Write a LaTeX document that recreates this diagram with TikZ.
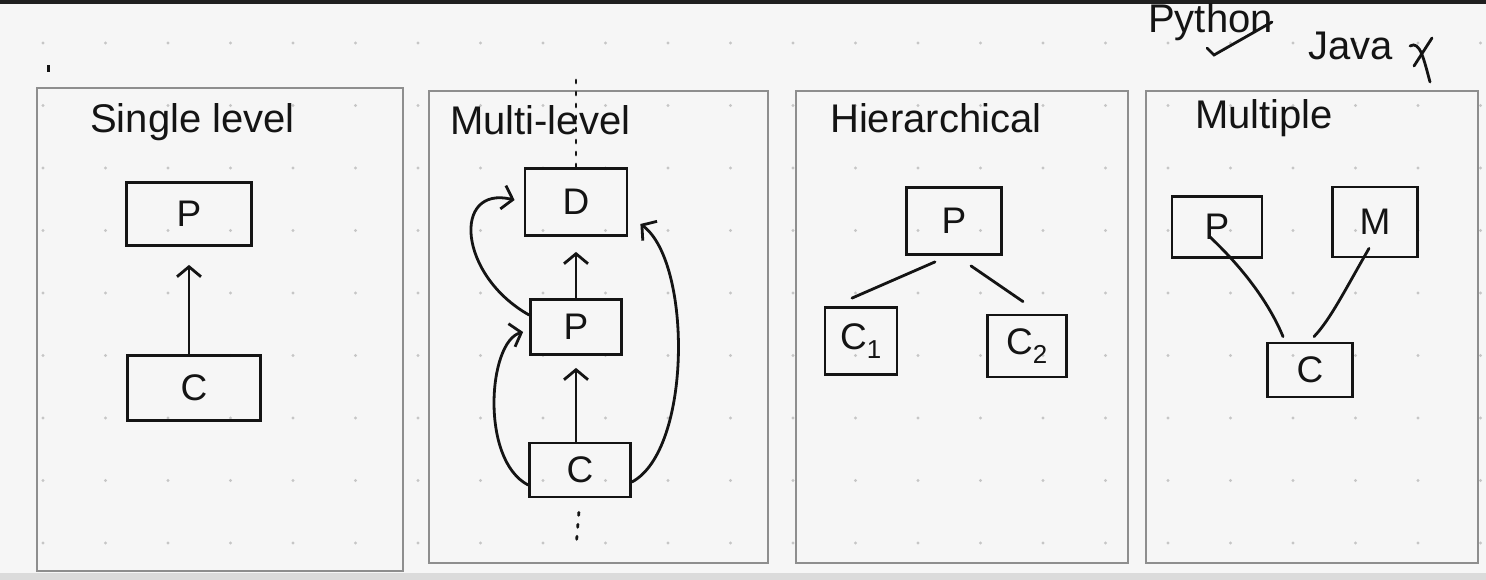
\documentclass[tikz,border=0pt]{standalone}
\usepackage{fontspec}
\setmainfont{Liberation Sans}
\usetikzlibrary{arrows.meta}
\definecolor{paper}{HTML}{F6F6F6}
\definecolor{panelgray}{HTML}{8E8E8E}
\definecolor{dotgray}{HTML}{C6C6C6}
\definecolor{ink}{HTML}{141414}
\tikzset{
  panel/.style={draw=panelgray, line width=1.8pt, inner sep=0pt, anchor=north west},
  box/.style={draw=ink, line width=2.8pt, inner sep=0pt, font=\fontsize{37}{42}\selectfont, text=ink},
  title/.style={font=\fontsize{40}{46}\selectfont, text=ink, inner sep=0pt, anchor=west},
  link/.style={draw=ink, line width=2.8pt, line cap=round},
  arr/.style={link, -{Straight Barb[length=10pt,width=24pt,line width=2.8pt]}},
  hint/.style={draw=ink, line width=2.8pt, dash pattern=on 3pt off 9pt, line cap=round},
}
\begin{document}
\begin{tikzpicture}[x=1pt,y=-1pt]
\useasboundingbox (0,0) rectangle (1486,580);
\fill[paper] (0,0) rectangle (1486,580);
\fill[black!88] (0,0) rectangle (1486,4);
\fill[black!14] (0,573) rectangle (1486,580);
\foreach \i in {0,...,23} \foreach \j in {0,...,8}
  \fill[dotgray] (43+62.5*\i, 43+62.5*\j) circle (1.6pt);
\fill[ink] (47,65) rectangle (50,72);

% panels
\node[panel, minimum width=366pt, minimum height=483pt] (pan1) at (36,87) {};
\node[panel, minimum width=339pt, minimum height=472pt] (pan2) at (428,90) {};
\node[panel, minimum width=332pt, minimum height=472pt] (pan3) at (795,90) {};
\node[panel, minimum width=332pt, minimum height=472pt] (pan4) at (1145,90) {};

% panel 1: single level
\node[title] (t1) at (90,122) {Single level};
\node[box, minimum width=125pt, minimum height=63pt] (p1) at (189,214) {P};
\node[box, minimum width=133pt, minimum height=65pt] (c1) at (194,388) {C};
\draw[arr, shorten >=18pt] (c1.north -| p1.south) -- (p1.south);

% panel 2: multi-level
\node[title] (t2) at (450,120) {Multi-level};
\node[box, minimum width=102pt, minimum height=67pt] (d2) at (576,202) {D};
\node[box, minimum width=91pt, minimum height=55pt] (p2) at (576,327) {P};
\node[box, minimum width=101pt, minimum height=54pt] (c2) at (580,470) {C};
\coordinate (dtop) at (576,80);
\coordinate (dbot) at (576,548);
\draw[hint] (dtop) -- (d2.north);
\draw[hint, shorten <=14pt] (c2.south) -- (dbot);
\draw[arr, shorten >=12pt] (c2.north -| p2.south) -- (p2.south);
\draw[arr, shorten >=15pt] (p2.north) -- (d2.south);
\draw[arr] ([yshift=12pt]p2.west) .. controls (458,275) and (452,185) .. ([xshift=-9pt,yshift=2pt]d2.west);
\draw[arr] ([yshift=-15pt]c2.west) .. controls (480,460) and (488,342) .. ([xshift=-6pt,yshift=-5pt]p2.west);
\draw[arr] ([yshift=-12pt]c2.east) .. controls (692,450) and (692,262) .. ([xshift=12pt,yshift=-22pt]d2.east);

% panel 3: hierarchical
\node[title] (t3) at (830,118) {Hierarchical};
\node[box, minimum width=95pt, minimum height=67pt] (p3) at (954,221) {P};
\node[box, minimum width=72pt, minimum height=67pt] (k1) at (861,341) {C\textsubscript{1}};
\node[box, minimum width=79pt, minimum height=62pt] (k2) at (1027,346) {C\textsubscript{2}};
\draw[link] ([xshift=-19pt,yshift=-6pt]p3.south) -- ([xshift=-9pt,yshift=8pt]k1.north);
\draw[link] ([xshift=17pt,yshift=-10pt]p3.south) -- ([xshift=-4pt,yshift=12pt]k2.north);

% panel 4: multiple
\node[title] (t4) at (1195,118) {Multiple};
\node[box, minimum width=90pt, minimum height=61pt] (p4) at (1217,227) {P};
\node[box, minimum width=85pt, minimum height=70pt] (m4) at (1375,222) {M};
\node[box, minimum width=85pt, minimum height=54pt] (c4) at (1310,370) {C};
\draw[link] ([xshift=-7pt,yshift=-10pt]p4.center) .. controls (1245,270) and (1270,305) .. ([xshift=-27pt,yshift=5pt]c4.north);
\draw[link] ([xshift=-6pt,yshift=10pt]m4.south) .. controls (1345,290) and (1330,320) .. ([xshift=4pt,yshift=5pt]c4.north);

% python / java note
\node[title] (py) at (1148,22) {Python};
\draw[link] (1207,48) -- (1214,55) -- (1272,22);
\node[title] (java) at (1308,46) {Java};
\draw[link] (1410,46) .. controls (1420,40) and (1424,60) .. (1430,82);
\draw[link] (1414,66) -- (1432,38);
\end{tikzpicture}
\end{document}
